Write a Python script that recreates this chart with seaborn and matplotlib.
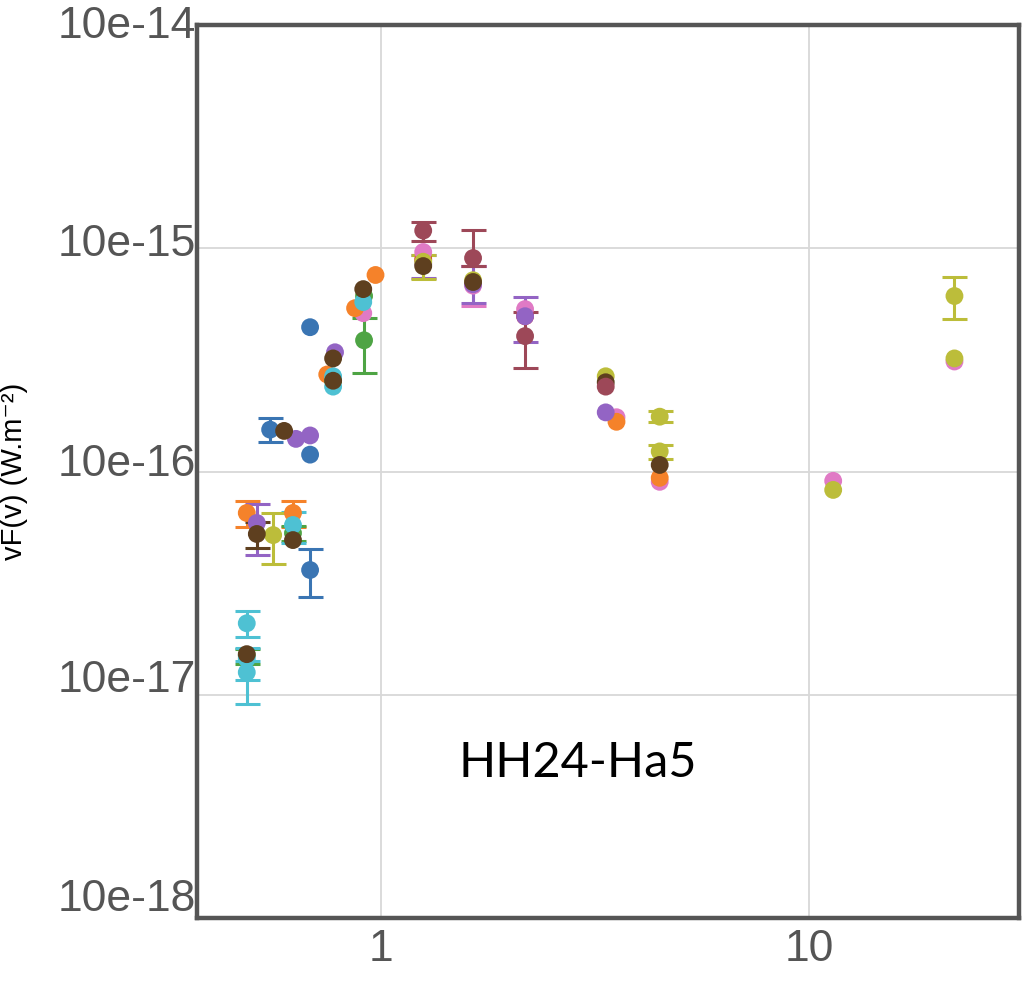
import numpy as np
import pandas as pd
import matplotlib
matplotlib.use("Agg")
import matplotlib.pyplot as plt
import matplotlib.transforms as mtransforms
import seaborn as sns

nan = np.nan

# ---- data (wavelength in micron, nuF_nu) ----
blue_x = [0.55, 0.682, 0.682, 0.682]
blue_y = [1.54e-16, 4.43e-16, 1.19e-16, 3.62e-17]
blue_lo = [1.36e-16, nan, nan, 2.74e-17]
blue_hi = [1.73e-16, nan, nan, 4.50e-17]

red_x = [1.254, 2.17]
red_y = [8.9e-16, 4.96e-16]
red_lo = [nan, nan]
red_hi = [nan, nan]

pink_x = [0.908, 1.254, 1.64, 2.17, 3.55, 4.48, 11.4, 21.9]
pink_y = [5.12e-16, 9.62e-16, 6.8e-16, 5.34e-16, 1.75e-16, 8.99e-17, 9.08e-17, 3.11e-16]
pink_lo = [nan, nan, 5.5e-16, nan, nan, nan, nan, nan]
pink_hi = [nan, nan, 8.3e-16, nan, nan, nan, nan, nan]

orange_x = [0.485, 0.622, 0.748, 0.869, 0.97, 3.55, 4.48]
orange_y = [6.52e-17, 6.52e-17, 2.72e-16, 5.39e-16, 7.59e-16, 1.67e-16, 9.37e-17]
orange_lo = [5.64e-17, 5.64e-17, nan, nan, nan, nan, nan]
orange_hi = [7.38e-17, 7.38e-17, nan, nan, nan, nan, nan]

green_x = [0.485, 0.622, 0.772, 0.912, 0.912]
green_y = [1.50e-17, 5.30e-17, 2.55e-16, 6.11e-16, 3.87e-16]
green_lo = [1.37e-17, 4.9e-17, nan, nan, 2.75e-16]
green_hi = [1.61e-17, 5.7e-17, nan, nan, 4.86e-16]

purple_x = [0.512, 0.632, 0.682, 0.78, 1.254, 1.64, 2.17, 3.35]
purple_y = [5.88e-17, 1.40e-16, 1.45e-16, 3.42e-16, 8.51e-16, 6.9e-16, 4.96e-16, 1.84e-16]
purple_lo = [4.22e-17, nan, nan, nan, 7.35e-16, 5.7e-16, 3.79e-16, nan]
purple_hi = [7.16e-17, nan, nan, nan, 9.33e-16, 8.3e-16, 6.04e-16, nan]

cyan_x = [0.485, 0.485, 0.485, 0.622, 0.772, 0.772, 0.908]
cyan_y = [2.09e-17, 1.45e-17, 1.26e-17, 5.76e-17, 2.67e-16, 2.40e-16, 5.74e-16]
cyan_lo = [1.82e-17, 1.17e-17, 9.12e-18, 4.8e-17, nan, nan, nan]
cyan_hi = [2.37e-17, 1.62e-17, 1.42e-17, 6.6e-17, nan, nan, nan]

olive_x = [0.559, 1.254, 1.64, 3.35, 4.48, 4.48, 11.4, 21.9, 21.9]
olive_y = [5.19e-17, 8.7e-16, 7.19e-16, 2.67e-16, 1.76e-16, 1.23e-16, 8.27e-17, 6.11e-16, 3.21e-16]
olive_lo = [3.85e-17, 7.3e-16, nan, nan, 1.67e-16, 1.14e-16, nan, 4.81e-16, nan]
olive_hi = [6.52e-17, 9.3e-16, nan, nan, 1.87e-16, 1.31e-16, nan, 7.43e-16, nan]

brown_x = [0.485, 0.512, 0.593, 0.622, 0.772, 0.772, 0.908, 1.254, 1.64, 3.35, 4.48]
brown_y = [1.52e-17, 5.25e-17, 1.52e-16, 4.93e-17, 3.21e-16, 2.55e-16, 6.56e-16, 8.32e-16, 7.06e-16, 2.51e-16, 1.07e-16]
brown_lo = [nan, 4.54e-17, nan, nan, nan, nan, nan, nan, nan, nan, nan]
brown_hi = [nan, 5.94e-17, nan, nan, nan, nan, nan, nan, nan, nan, nan]

maroon_x = [1.254, 1.64, 2.17, 3.35]
maroon_y = [1.20e-15, 9.04e-16, 4.04e-16, 2.40e-16]
maroon_lo = [1.08e-15, 8.32e-16, 2.90e-16, nan]
maroon_hi = [1.31e-15, 1.21e-15, 5.17e-16, nan]

series_names = ["blue", "red", "pink", "orange", "green", "purple", "cyan", "olive", "brown", "maroon"]
series_colors = ["#3a75b3", "#d62728", "#e07ac5", "#f5822a", "#4ea444", "#9364c4",
                 "#4ec1d3", "#bcbd3a", "#5e3f1f", "#9d4858"]

y_ticks = [1e-18, 1e-17, 1e-16, 1e-15, 1e-14]
y_tick_labels = ["10e-18", "10e-17", "10e-16", "10e-15", "10e-14"]
x_ticks = [1, 10]
x_tick_labels = ["1", "10"]

ylabel = "vF(v) (W.m⁻²)"
annotation = "HH24-Ha5"

# ---- build table ----
data = {
    "blue": (blue_x, blue_y, blue_lo, blue_hi),
    "red": (red_x, red_y, red_lo, red_hi),
    "pink": (pink_x, pink_y, pink_lo, pink_hi),
    "orange": (orange_x, orange_y, orange_lo, orange_hi),
    "green": (green_x, green_y, green_lo, green_hi),
    "purple": (purple_x, purple_y, purple_lo, purple_hi),
    "cyan": (cyan_x, cyan_y, cyan_lo, cyan_hi),
    "olive": (olive_x, olive_y, olive_lo, olive_hi),
    "brown": (brown_x, brown_y, brown_lo, brown_hi),
    "maroon": (maroon_x, maroon_y, maroon_lo, maroon_hi),
}
frames = []
for name in series_names:
    x, y, lo, hi = data[name]
    frames.append(pd.DataFrame({"wl": x, "flux": y, "lo": lo, "hi": hi, "series": name}))
df = pd.concat(frames, ignore_index=True)
palette = dict(zip(series_names, series_colors))

sns.set_theme(style="white")
plt.rcParams["font.family"] = ["Liberation Sans", "DejaVu Sans"]

fig = plt.figure(figsize=(10.34, 9.82), dpi=100)
ax = fig.add_axes([197 / 1034, 1 - 918 / 982, (1019 - 197) / 1034, (918 - 25) / 982])
ax.set_xscale("log")
ax.set_yscale("log")

# error bars
for i, name in enumerate(series_names):
    sub = df[(df.series == name) & df.lo.notna()]
    if len(sub):
        yerr = np.vstack([sub.flux - sub.lo, sub.hi - sub.flux])
        ax.errorbar(sub.wl, sub.flux, yerr=yerr, fmt="none", ecolor=palette[name],
                    elinewidth=2.2, capsize=9, capthick=2.2, zorder=2 + i * 0.1)

sns.scatterplot(data=df, x="wl", y="flux", hue="series", palette=palette,
                hue_order=series_names, s=165, linewidth=0, alpha=1.0,
                legend=False, ax=ax, zorder=5)

ax.set_xlim(0.371, 31.0)
ax.set_ylim(1e-18, 1e-14)
ax.set_yticks(y_ticks)
ax.set_yticklabels(y_tick_labels)
ax.set_xticks(x_ticks)
ax.set_xticklabels(x_tick_labels)
ax.minorticks_off()
ax.tick_params(axis="both", length=0, labelsize=32, labelcolor="#555555")
ax.tick_params(axis="y", pad=1)
ax.tick_params(axis="x", pad=8)
ax.grid(True, which="major", color="#d8d8d8", linewidth=1.3)
ax.set_axisbelow(True)
for sp in ax.spines.values():
    sp.set_color("#555555")
    sp.set_linewidth(3.2)
    sp.set_visible(True)

# the reference draws its y labels slightly above the gridlines
fig.canvas.draw()
label_shift_px = {"10e-18": 23, "10e-17": 19, "10e-16": 11, "10e-15": 8, "10e-14": 3}
for lab in ax.get_yticklabels():
    dy = label_shift_px.get(lab.get_text(), 0) / 100.0
    lab.set_transform(lab.get_transform() + mtransforms.ScaledTranslation(0, dy, fig.dpi_scale_trans))

ax.set_xlabel("")
ax.set_ylabel(ylabel, fontsize=21, color="black")
ax.yaxis.set_label_coords(-0.205, 0.5)

fig.text(578 / 1034, 1 - 763 / 982, annotation, ha="center", va="center",
         fontsize=35, color="black", family=["Lato", "DejaVu Sans"])

fig.savefig("out.png", dpi=100, facecolor="white")
